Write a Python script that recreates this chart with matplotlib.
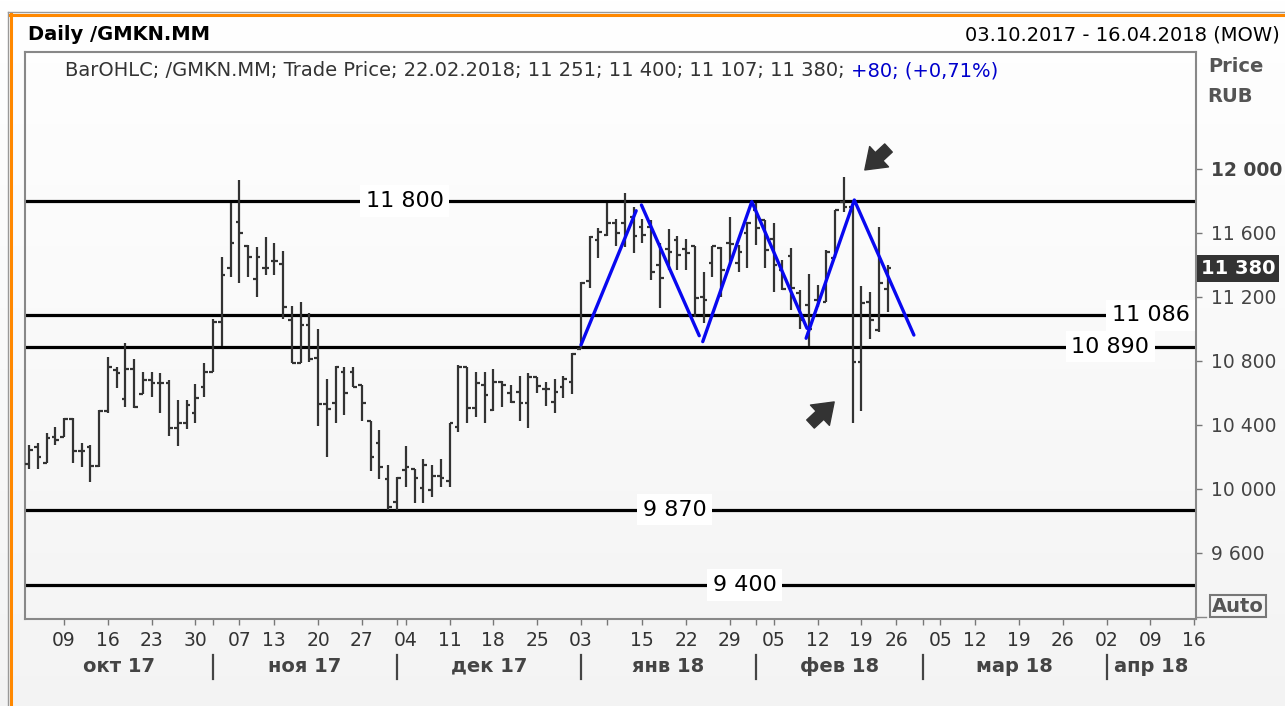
import numpy as np
import pandas as pd
import matplotlib
matplotlib.use("Agg")
import matplotlib.pyplot as plt
from matplotlib.lines import Line2D
from matplotlib.transforms import blended_transform_factory

plt.rcParams['font.family'] = ['DejaVu Sans']

# ---------------- data ----------------
holidays = ['2017-11-06', '2018-01-01', '2018-01-02', '2018-01-08', '2018-02-23', '2018-03-08']
all_days = pd.bdate_range('2017-10-03', '2018-04-16')
trade_days = [d for d in all_days if d.strftime('%Y-%m-%d') not in holidays]

opens = [10154, 10265, 10165, 10327, 10327, 10435, 10238, 10265, 10144, 10490,
         10744, 10560, 10748, 10594, 10681, 10665, 10665, 10379, 10415, 10477,
         10635, 10733, 11046, 11379, 11670, 11519, 11310, 11379, 11427, 11404,
         11056, 10790, 11025, 10821, 10529, 10535, 10733, 10733, 10650, 10427,
         10290, 10060, 9920, 10119, 10123, 10008, 9994, 10081, 10052, 10390,
         10760, 10504, 10650, 10494, 10671, 10598, 10608, 10535, 10702, 10623,
         10546, 10640, 10671, 10873, 11302, 11556, 11587, 11660, 11660, 11700,
         11640, 11640, 11400, 11500, 11556, 11500, 11519, 11200, 11410, 11504,
         11540, 11410, 11598, 11744, 11681, 11560, 11369, 11456, 11223, 11150,
         11181, 11169, 11444, 11796, 11764, 10796, 11171, 10994, 11251]
highs = [10275, 10290, 10352, 10390, 10442, 10442, 10290, 10275, 10494, 10823,
         10765, 10910, 10810, 10733, 10733, 10723, 10681, 10556, 10556, 10656,
         10790, 11060, 11448, 11785, 11931, 11525, 11515, 11577, 11535, 11487,
         11144, 11167, 11098, 10998, 10685, 10769, 10760, 10765, 10650, 10427,
         10369, 10150, 10077, 10269, 10123, 10185, 10150, 10185, 10415, 10775,
         10765, 10733, 10733, 10748, 10677, 10650, 10708, 10723, 10702, 10671,
         10688, 10708, 10848, 11296, 11581, 11629, 11790, 11685, 11848, 11765,
         11685, 11681, 11535, 11623, 11581, 11560, 11519, 11358, 11519, 11510,
         11698, 11525, 11670, 11785, 11681, 11660, 11431, 11506, 11244, 11344,
         11275, 11494, 11744, 11950, 11806, 11269, 11231, 11637, 11400]
lows = [10125, 10125, 10160, 10275, 10327, 10160, 10140, 10046, 10140, 10473,
        10629, 10515, 10504, 10594, 10577, 10477, 10333, 10269, 10373, 10410,
        10577, 10733, 10894, 11327, 11290, 11327, 11202, 11337, 11337, 11060,
        10790, 10790, 10796, 10394, 10198, 10415, 10462, 10640, 10427, 10112,
        10060, 9868, 9868, 10010, 9915, 9915, 9952, 10015, 10010, 10358,
        10415, 10452, 10415, 10490, 10515, 10540, 10427, 10379, 10602, 10519,
        10477, 10567, 10592, 10873, 11254, 11442, 11581, 11519, 11515, 11473,
        11540, 11306, 11129, 11369, 11369, 11369, 11077, 11040, 11327, 11202,
        11410, 11358, 11379, 11525, 11379, 11233, 11244, 11119, 11000, 10894,
        11137, 11169, 11444, 11731, 10412, 10487, 10937, 10981, 11107]
closes = [10244, 10202, 10317, 10306, 10435, 10238, 10238, 10144, 10490, 10765,
          10723, 10748, 10510, 10681, 10665, 10665, 10379, 10415, 10525, 10571,
          10733, 11046, 11337, 11540, 11598, 11448, 11448, 11379, 11427, 11140,
          10790, 11025, 10810, 10529, 10500, 10760, 10598, 10635, 10535, 10202,
          10140, 9890, 10071, 10140, 10067, 10150, 10081, 10067, 10410, 10765,
          10504, 10665, 10587, 10671, 10650, 10546, 10535, 10702, 10644, 10623,
          10608, 10685, 10844, 11290, 11577, 11608, 11660, 11598, 11598, 11581,
          11590, 11358, 11317, 11483, 11462, 11473, 11192, 11181, 11519, 11369,
          11530, 11483, 11660, 11629, 11494, 11400, 11250, 11254, 11056, 11000,
          11200, 11481, 11744, 11764, 10796, 11164, 11056, 11290, 11380]

levels = [11800, 11086, 10890, 9870, 9400]
level_labels = ['11 800', '11 086', '10 890', '9 870', '9 400']
level_label_pos = [42.9, 128.0, 123.4, 73.7, 81.7]

# zig-zag pattern (trading-day index, price); NaN separates segments
pattern_x = [63.0, 69.3, np.nan, 69.9, 76.5, np.nan, 76.9, 82.5, 88.8, np.nan, 88.7, 94.2, 101.0]
pattern_y = [10900, 11739, np.nan, 11775, 10958, np.nan, 10921, 11796, 11004, np.nan, 10942, 11806, 10962]

arrows = [((98.1, 12131), (95.4, 11994)), ((89.2, 10406), (91.9, 10544))]

y_ticks = [9600, 10000, 10400, 10800, 11200, 11600, 12000]
day_tick_dates = ['2017-10-09', '2017-10-16', '2017-10-23', '2017-10-30', '2017-11-07',
                  '2017-11-13', '2017-11-20', '2017-11-27', '2017-12-04', '2017-12-11',
                  '2017-12-18', '2017-12-25', '2018-01-03', '2018-01-15', '2018-01-22',
                  '2018-01-29', '2018-02-05', '2018-02-12', '2018-02-19', '2018-02-26',
                  '2018-03-05', '2018-03-12', '2018-03-19', '2018-03-26', '2018-04-02',
                  '2018-04-09', '2018-04-16']
minor_tick_dates = ['2017-11-01', '2017-12-01', '2018-01-09', '2018-02-01', '2018-03-01']
month_starts = ['2017-11-01', '2017-12-01', '2018-01-03', '2018-02-01', '2018-03-01', '2018-04-02']
month_names = ['окт 17', 'ноя 17', 'дек 17', 'янв 18', 'фев 18', 'мар 18', 'апр 18']

last_price = 11380

# ---------------- figure ----------------
W, H = 1285, 706
fig = plt.figure(figsize=(W / 100, H / 100), dpi=100)

# background gradient
bg = fig.add_axes([0, 0, 1, 1], zorder=-10)
grad = np.linspace(1.0, 0.955, 256).reshape(-1, 1)
bg.imshow(np.dstack([grad, grad, grad]), aspect='auto', extent=[0, 1, 0, 1], origin='upper')
bg.set_xlim(0, 1); bg.set_ylim(0, 1)
bg.axis('off')

def fy(py):
    return 1 - py / H

def fx(px):
    return px / W

ax = fig.add_axes([fx(25), fy(619), fx(1196) - fx(25), fy(52) - fy(619)])
ax.patch.set_alpha(0)

idx = {d.strftime('%Y-%m-%d'): i for i, d in enumerate(trade_days)}
xs = np.arange(len(opens))
bar_col = '#333333'
ax.vlines(xs, lows, highs, colors=bar_col, lw=1.6, zorder=3)
ax.hlines(opens, xs - 0.42, xs, colors=bar_col, lw=1.6, zorder=3)
ax.hlines(closes, xs, xs + 0.42, colors=bar_col, lw=1.6, zorder=3)

for lv, lab, pos in zip(levels, level_labels, level_label_pos):
    ax.axhline(lv, color='black', lw=2.3, zorder=2)
    ax.text(pos, lv, lab, ha='center', va='center', fontsize=16, color='black', zorder=4,
            bbox=dict(boxstyle='square,pad=0.25', fc='white', ec='none'))

ax.plot(pattern_x, pattern_y, color='#0808f0', lw=2.4, zorder=5, solid_capstyle='round')

for tail, head in arrows:
    ax.annotate('', xy=head, xytext=tail, zorder=6,
                arrowprops=dict(arrowstyle='simple,head_length=0.7,head_width=1.0,tail_width=0.4',
                                color='#333333', mutation_scale=20, shrinkA=0, shrinkB=0))

ax.set_xlim(-0.46, 133.2)
ax.set_ylim(9187.5, 12731)

for s in ax.spines.values():
    s.set_color('#888888')
    s.set_linewidth(1.5)

ax.yaxis.tick_right()
ax.set_yticks(y_ticks)
ax.set_yticklabels([f'{v:,}'.replace(',', ' ') for v in y_ticks])
ax.tick_params(axis='y', direction='out', length=4.5, width=1, color='#777777',
               labelsize=13.5, labelcolor='#444444', pad=6)
ax.get_yticklabels()[-1].set_fontweight('bold')

ax.set_xticks([idx[d] for d in day_tick_dates])
ax.set_xticklabels([d[-2:] for d in day_tick_dates])
ax.set_xticks([idx[d] for d in minor_tick_dates], minor=True)
ax.tick_params(axis='x', which='both', direction='out', length=4, width=1, color='#777777',
               labelsize=13.5, labelcolor='#333333', pad=5)

# month separators and labels
tr = blended_transform_factory(ax.transData, fig.transFigure)
bounds = [-0.46] + [idx[d] for d in month_starts] + [133.2]
for b in bounds[1:-1]:
    fig.add_artist(Line2D([b, b], [fy(655), fy(679)], transform=tr, color='#444444', lw=1.6))
for name, a, b in zip(month_names, bounds[:-1], bounds[1:]):
    fig.text((a + b) / 2, fy(666), name, transform=tr, ha='center', va='center',
             fontsize=14, fontweight='bold', color='#444444')

# header
fig.text(fx(28), fy(35), 'Daily /GMKN.MM', ha='left', va='center', fontsize=14,
         fontweight='bold', color='black')
fig.text(fx(1280), fy(35), '03.10.2017 - 16.04.2018 (MOW)', ha='right', va='center',
         fontsize=14, color='black')
t1 = fig.text(fx(65), fy(71), 'BarOHLC; /GMKN.MM; Trade Price; 22.02.2018; 11 251; 11 400; 11 107; 11 380; ',
              ha='left', va='center', fontsize=14, color='#333333')
fig.canvas.draw()
ext = t1.get_window_extent()
fig.text(ext.x1 / W, fy(71), '+80; (+0,71%)', ha='left', va='center', fontsize=14, color='#0000cc')

fig.text(fx(1208), fy(67), 'Price', ha='left', va='center', fontsize=14, fontweight='bold', color='#555555')
fig.text(fx(1207), fy(96), 'RUB', ha='left', va='center', fontsize=14, fontweight='bold', color='#555555')

ytr = blended_transform_factory(fig.transFigure, ax.transData)
fig.text(fx(1201), last_price, '11 380', transform=ytr, ha='left', va='center', fontsize=14,
         fontweight='bold', color='white',
         bbox=dict(boxstyle='square,pad=0.2', fc='#333333', ec='none'))

fig.text(fx(1212), fy(606), 'Auto', ha='left', va='center', fontsize=14, fontweight='bold', color='#555555',
         bbox=dict(boxstyle='square,pad=0.1', fc='none', ec='#777777', lw=1.5))
fig.add_artist(Line2D([fx(1197), fx(1206)], [fy(617), fy(617)], transform=fig.transFigure,
                      color='#888888', lw=1))

# orange frame
fig.add_artist(Line2D([fx(8), fx(1285)], [fy(12), fy(12)], transform=fig.transFigure, color='#999999', lw=1))
fig.add_artist(Line2D([fx(8), fx(8)], [fy(12), 0], transform=fig.transFigure, color='#999999', lw=1))
fig.add_artist(Line2D([fx(10), fx(1285)], [fy(14.5), fy(14.5)], transform=fig.transFigure, color='#ff8800', lw=2.2))
fig.add_artist(Line2D([fx(10.5), fx(10.5)], [fy(14), 0], transform=fig.transFigure, color='#ff8800', lw=2.2))

fig.savefig('out.png', dpi=100)
